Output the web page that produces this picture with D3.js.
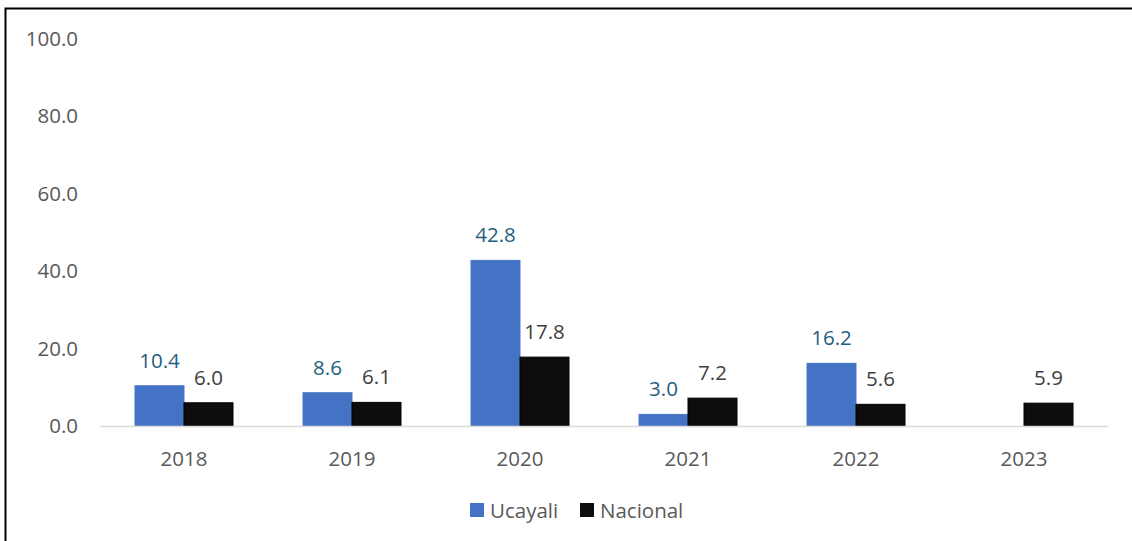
<!DOCTYPE html>
<html>
<head>
<meta charset="utf-8">
<script src="https://cdn.jsdelivr.net/npm/d3@7"></script>
<style>
  html, body { margin: 0; padding: 0; background: #fff; }
  svg { display: block; font-family: "Open Sans", "Liberation Sans", sans-serif; }
</style>
</head>
<body>
<svg id="chart" width="1132" height="541"></svg>
<script>
// Years on the x axis
const years = ["2018", "2019", "2020", "2021", "2022", "2023"];
// Series values (null = no data for that year)
const ucayali = [10.4, 8.6, 42.8, 3.0, 16.2, null];
const nacional = [6.0, 6.1, 17.8, 7.2, 5.6, 5.9];
// Series names and y-axis ticks
const seriesNames = ["Ucayali", "Nacional"];
const yTicks = [0, 20, 40, 60, 80, 100];

const FONT = "20.5px";

const series = [
  { name: seriesNames[0], values: ucayali, fill: "#4472C4", stroke: "#4a78c8", label: "#1F6080" },
  { name: seriesNames[1], values: nacional, fill: "#0D0D0D", stroke: "#000000", label: "#404040" }
];

const svg = d3.select("#chart");

// Outer frame (open on the right and bottom)
svg.append("rect")
  .attr("x", 5.5).attr("y", 8.5)
  .attr("width", 1140).attr("height", 540)
  .attr("fill", "none").attr("stroke", "#000").attr("stroke-width", 2);

const x = d3.scaleBand()
  .domain(years)
  .range([100, 1108])
  .paddingInner(0.4167)
  .paddingOuter(0.2083);

const xSub = d3.scaleBand()
  .domain(seriesNames)
  .range([0, x.bandwidth()]);

const y = d3.scaleLinear().domain([0, 100]).range([426, 39]);

// Y axis labels (no line, no ticks)
const yAxis = svg.append("g")
  .attr("transform", "translate(78,0)")
  .call(d3.axisLeft(y).tickValues(yTicks).tickFormat(d3.format(".1f")).tickSize(0).tickPadding(0));
yAxis.select(".domain").remove();
yAxis.selectAll("text")
  .attr("fill", "#595959")
  .style("font-size", FONT)
  .style("font-family", "'Open Sans', sans-serif");

// Bars
series.forEach(s => {
  const g = svg.append("g");
  const data = years.map((yr, i) => ({ yr, v: s.values[i] })).filter(d => d.v != null);
  g.selectAll("rect").data(data).join("rect")
    .attr("x", d => x(d.yr) + xSub(s.name))
    .attr("y", d => y(d.v))
    .attr("width", xSub.bandwidth())
    .attr("height", d => y(0) - y(d.v))
    .attr("fill", s.fill)
    .attr("stroke", s.stroke)
    .attr("stroke-width", 1);
  g.selectAll("text").data(data).join("text")
    .attr("x", d => x(d.yr) + xSub(s.name) + xSub.bandwidth() / 2)
    .attr("y", d => y(d.v) - 18)
    .attr("text-anchor", "middle")
    .attr("fill", s.label)
    .style("font-size", FONT)
    .text(d => d3.format(".1f")(d.v));
});

// X axis baseline and year labels
const xAxis = svg.append("g")
  .attr("transform", `translate(0,${y(0)})`)
  .call(d3.axisBottom(x).tickSize(0).tickPadding(25).tickSizeOuter(0));
xAxis.select(".domain").attr("stroke", "#d9d9d9").attr("stroke-width", 1.5);
xAxis.selectAll("text")
  .attr("fill", "#595959")
  .style("font-size", FONT)
  .style("font-family", "'Open Sans', sans-serif");

// Legend
const legendItems = [
  { name: seriesNames[0], fill: "#4472C4", x: 470 },
  { name: seriesNames[1], fill: "#0D0D0D", x: 580 }
];
const legend = svg.append("g");
legendItems.forEach(it => {
  legend.append("rect")
    .attr("x", it.x).attr("y", 503)
    .attr("width", 14).attr("height", 14)
    .attr("fill", it.fill);
  legend.append("text")
    .attr("x", it.x + 20).attr("y", 518)
    .attr("fill", "#595959")
    .style("font-size", FONT)
    .text(it.name);
});
</script>
</body>
</html>
